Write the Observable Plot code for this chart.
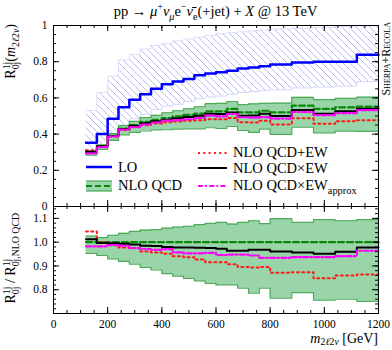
<!DOCTYPE html>
<html>
<head>
<meta charset="utf-8">
<script src="https://cdn.jsdelivr.net/npm/d3@7"></script>
<script src="https://cdn.jsdelivr.net/npm/@observablehq/plot@0.6"></script>
<style>
html,body{margin:0;padding:0;background:#fff}
#chart{position:relative;width:392px;height:350px;overflow:hidden;background:#fff;font-family:"Liberation Serif","DejaVu Serif",serif;color:#000}
#chart > svg{position:absolute;left:0;overflow:visible}
.t{position:absolute;white-space:nowrap;line-height:1}
.rot{width:240px;text-align:right;transform-origin:100% 0;transform:rotate(-90deg)}
.ss{display:inline-block;vertical-align:-0.42em;line-height:0.92;font-size:0.7em;text-align:left}
.ss span{display:block}
sub,sup{font-size:0.7em;line-height:0}
.xl sub{vertical-align:-0.2em}
.leg{position:absolute;display:flex;align-items:center;height:18px;font-size:14.5px;white-space:nowrap}
.leg svg{margin-right:6px;overflow:visible}
</style>
</head>
<body>
<div id="chart"></div>
<script>
// ---- data (bin edges in GeV; one value per bin) ----
const binEdges = [120,160,200,240,280,320,360,400,440,480,520,560,600,640,680,720,760,800,880,960,1040,1120,1200];

// upper panel: R(0j->1j) vs m_2l2v
const loValues      = [0.352,0.400,0.485,0.548,0.590,0.620,0.650,0.675,0.690,0.705,0.725,0.735,0.742,0.750,0.762,0.768,0.775,0.785,0.795,0.800,0.800,0.838];
const loBandHigh    = [0.53,0.63,0.72,0.81,0.84,0.87,0.89,0.90,0.915,0.925,0.935,0.945,0.955,0.96,0.965,0.97,0.975,0.98,0.985,0.99,0.995,0.998];
const loBandLow     = [0.30,0.335,0.40,0.45,0.485,0.51,0.535,0.555,0.565,0.58,0.595,0.605,0.61,0.62,0.63,0.635,0.64,0.645,0.655,0.66,0.665,0.69];
const nloQcd        = [0.298,0.334,0.392,0.431,0.450,0.467,0.479,0.489,0.498,0.506,0.513,0.526,0.526,0.539,0.520,0.520,0.529,0.520,0.557,0.539,0.548,0.552];
const nloBandHigh   = [0.306,0.340,0.403,0.447,0.470,0.491,0.504,0.518,0.529,0.540,0.551,0.568,0.570,0.580,0.563,0.567,0.570,0.571,0.603,0.590,0.597,0.604];
const nloBandLow    = [0.284,0.315,0.365,0.396,0.409,0.417,0.423,0.424,0.427,0.429,0.429,0.435,0.431,0.442,0.420,0.409,0.427,0.398,0.439,0.407,0.416,0.415];
const qcdPlusEw     = [0.311,0.334,0.387,0.422,0.439,0.449,0.458,0.465,0.469,0.474,0.476,0.482,0.482,0.489,0.466,0.464,0.474,0.453,0.487,0.457,0.471,0.477];
const qcdTimesEw    = [0.302,0.333,0.390,0.428,0.446,0.460,0.471,0.479,0.487,0.495,0.501,0.513,0.511,0.520,0.501,0.503,0.512,0.500,0.533,0.513,0.526,0.540];
const qcdTimesEwApx = [0.293,0.328,0.387,0.425,0.439,0.453,0.464,0.475,0.477,0.482,0.489,0.502,0.498,0.511,0.493,0.491,0.494,0.486,0.522,0.505,0.516,0.532];

// lower panel: ratio to NLO QCD
const ratioNlo      = [1,1,1,1,1,1,1,1,1,1,1,1,1,1,1,1,1,1,1,1,1,1];
const ratioBandHigh = [1.026,1.019,1.029,1.037,1.045,1.051,1.053,1.059,1.063,1.067,1.074,1.079,1.083,1.076,1.083,1.090,1.078,1.099,1.083,1.095,1.090,1.095];
const ratioBandLow  = [0.953,0.944,0.930,0.919,0.908,0.894,0.883,0.868,0.857,0.848,0.837,0.827,0.820,0.820,0.807,0.786,0.807,0.765,0.788,0.756,0.760,0.751];
const ratioPlusEw   = [1.045,1.000,0.987,0.978,0.975,0.961,0.957,0.951,0.941,0.937,0.927,0.916,0.916,0.907,0.896,0.893,0.896,0.871,0.874,0.848,0.860,0.864];
const ratioTimesEw  = [1.012,0.996,0.995,0.993,0.990,0.985,0.984,0.980,0.978,0.978,0.976,0.975,0.972,0.964,0.964,0.968,0.968,0.961,0.957,0.951,0.960,0.978];
const ratioApprox   = [0.982,0.982,0.988,0.985,0.975,0.971,0.968,0.971,0.957,0.953,0.953,0.955,0.946,0.948,0.948,0.944,0.934,0.934,0.937,0.937,0.941,0.964];

// ticks
const xMajorTicks = [0,200,400,600,800,1000,1200];
const xMinorTicks = d3.range(0, 1201, 50);
const upperYLabels = [0,0.2,0.4,0.6,0.8,1];
const upperYMinor = d3.range(0, 20).map(i => i * 0.05);
const lowerYLabels = [0.8,0.9,1.0,1.1];
const lowerYMinor = d3.range(35, 58).map(i => i * 0.02);

// ---- helpers ----
const FONT = '"Liberation Serif","DejaVu Serif",serif';
const BLUE = "#0000ff", GREEN_FILL = "#9ad5a9", GREEN_EDGE = "#4caa58", GREEN_LINE = "#0b870b",
      RED = "#ff1a1a", MAGENTA = "#ff00ff";
const PW = 325;
function steps(vals) { return binEdges.map((x, i) => ({x, y: vals[Math.min(i, vals.length - 1)]})); }
function band(lo, hi) { return binEdges.map((x, i) => { const j = Math.min(i, lo.length - 1); return {x, lo: lo[j], hi: hi[j]}; }); }
const step = {x: "x", curve: "step-after"};

function frameTicks(ph, yMaj, yMin) {
  return [
    Plot.tickX(xMajorTicks, {x: d => d, insetTop: ph - 6}),
    Plot.tickX(xMajorTicks, {x: d => d, insetBottom: ph - 6}),
    Plot.tickX(xMinorTicks, {x: d => d, insetTop: ph - 3}),
    Plot.tickX(xMinorTicks, {x: d => d, insetBottom: ph - 3}),
    Plot.tickY(yMaj, {y: d => d, insetRight: PW - 6}),
    Plot.tickY(yMaj, {y: d => d, insetLeft: PW - 6}),
    Plot.tickY(yMin, {y: d => d, insetRight: PW - 3}),
    Plot.tickY(yMin, {y: d => d, insetLeft: PW - 3})
  ];
}
function curves(nlo, bHi, bLo, pew, tew, apx) {
  return [
    Plot.areaY(band(bLo, bHi), {...step, y1: "lo", y2: "hi", fill: GREEN_FILL}),
    Plot.lineY(band(bLo, bHi), {...step, y: "lo", stroke: GREEN_EDGE, strokeWidth: 1.2}),
    Plot.lineY(band(bLo, bHi), {...step, y: "hi", stroke: GREEN_EDGE, strokeWidth: 1.2}),
    Plot.lineY(steps(nlo), {...step, y: "y", stroke: GREEN_LINE, strokeWidth: 2.2, strokeDasharray: "6,3"}),
    Plot.lineY(steps(pew), {...step, y: "y", stroke: RED, strokeWidth: 2, strokeDasharray: "2,3.3"}),
    Plot.lineY(steps(tew), {...step, y: "y", stroke: "#000", strokeWidth: 2}),
    Plot.lineY(steps(apx), {...step, y: "y", stroke: MAGENTA, strokeWidth: 2.2, strokeDasharray: "5,2.2,1.8,2.2"})
  ];
}

const chart = document.getElementById("chart");

// ---- upper panel ----
const upper = Plot.plot({
  width: 392, height: 206,
  marginTop: 25, marginBottom: 0, marginLeft: 53, marginRight: 14,
  style: {background: "transparent", fontFamily: FONT, fontSize: "11.5px", overflow: "visible"},
  x: {domain: [0, 1200], axis: null, label: null},
  y: {domain: [0, 1], label: null},
  marks: [
    Plot.areaY(band(loBandLow, loBandHigh), {...step, y1: "lo", y2: "hi", fill: "url(#loHatch)"}),
    Plot.lineY(band(loBandLow, loBandHigh), {...step, y: "lo", stroke: "#d3d6f7", strokeWidth: 1}),
    Plot.lineY(band(loBandLow, loBandHigh), {...step, y: "hi", stroke: "#dcdff9", strokeWidth: 1}),
    ...curves(nloQcd, nloBandHigh, nloBandLow, qcdPlusEw, qcdTimesEw, qcdTimesEwApx).slice(0, 4),
    Plot.lineY(steps(loValues), {...step, y: "y", stroke: BLUE, strokeWidth: 2.5}),
    ...curves(nloQcd, nloBandHigh, nloBandLow, qcdPlusEw, qcdTimesEw, qcdTimesEwApx).slice(4),
    ...frameTicks(181, upperYLabels, upperYMinor),
    Plot.axisY(upperYLabels, {tickSize: 0, tickPadding: 6, tickFormat: d => String(d), label: null}),
    Plot.frame({stroke: "#000"})
  ]
});
const defs = d3.select(upper).insert("defs", ":first-child");
const pat = defs.append("pattern").attr("id", "loHatch").attr("patternUnits", "userSpaceOnUse")
  .attr("width", 7).attr("height", 7);
pat.append("path").attr("d", "M-1,-1L8,8M-1,6L1,8M6,-1L8,1").attr("stroke", "#b6bcf1").attr("stroke-width", 1).attr("fill", "none");
upper.style.top = "0px";
chart.appendChild(upper);

// ---- lower panel ----
const lower = Plot.plot({
  width: 392, height: 144,
  marginTop: 0, marginBottom: 37, marginLeft: 53, marginRight: 14,
  style: {background: "transparent", fontFamily: FONT, fontSize: "11.5px", overflow: "visible"},
  x: {domain: [0, 1200], label: null},
  y: {domain: [0.7, 1.15], label: null},
  marks: [
    ...curves(ratioNlo, ratioBandHigh, ratioBandLow, ratioPlusEw, ratioTimesEw, ratioApprox),
    ...frameTicks(107, lowerYLabels, lowerYMinor),
    Plot.axisY(lowerYLabels, {tickSize: 0, tickPadding: 6, tickFormat: d => d.toFixed(1), label: null}),
    Plot.axisX(xMajorTicks, {tickSize: 0, tickPadding: 6, tickFormat: d => String(d), label: null}),
    Plot.frame({stroke: "#000"})
  ]
});
lower.style.top = "206px";
chart.appendChild(lower);

// ---- texts ----
function addText(html, css, cls = "t") {
  const d = document.createElement("div");
  d.className = cls;
  d.innerHTML = html;
  Object.assign(d.style, css);
  chart.appendChild(d);
  return d;
}
addText('pp → <i>μ</i><sup>+</sup><i>ν</i><sub><i>μ</i></sub>e<sup>−</sup><i>ν̄</i><sub>e</sub>(+jet) + <i>X</i> @ 13 TeV',
  {left: "53px", width: "325px", textAlign: "center", top: "4px", fontSize: "14.5px"});
addText('R<span class="ss"><span>1j</span><span>0j</span></span>(<i>m</i><sub>2<i>ℓ</i>2<i>ν</i></sub>)',
  {left: (2 - 240) + "px", top: "24px", fontSize: "14px", height: "18px"}, "t rot");
addText('R<span class="ss"><span>1j</span><span>0j</span></span> / R<span class="ss"><span>1j</span><span>0j,NLO QCD</span></span>',
  {left: (2 - 240) + "px", top: "213px", fontSize: "14px", height: "18px"}, "t rot");
addText('<i>m</i><sub>2<i>ℓ</i>2<i>ν</i></sub> [GeV]', {right: "14px", top: "332px", fontSize: "14px"}, "t xl");
addText('Sherpa+Recola', {left: (380 - 240) + "px", top: "22px", fontSize: "12px", fontVariant: "small-caps", height: "14px"}, "t rot");

// ---- legend ----
function legend(left, cy, w, sample, html) {
  const d = document.createElement("div");
  d.className = "leg";
  d.style.left = left + "px";
  d.style.top = (cy - 9) + "px";
  d.innerHTML = `<svg width="${w}" height="18">${sample}</svg><span>${html}</span>`;
  chart.appendChild(d);
}
legend(86, 167, 26, `<line x1="0" x2="26" y1="9" y2="9" stroke="${BLUE}" stroke-width="2.5"/>`, "LO");
legend(86, 185.5, 26,
  `<rect x="0" y="4" width="26" height="10" fill="${GREEN_FILL}"/>
   <line x1="0" x2="26" y1="4" y2="4" stroke="${GREEN_EDGE}" stroke-width="1.2"/>
   <line x1="0" x2="26" y1="14" y2="14" stroke="${GREEN_EDGE}" stroke-width="1.2"/>
   <line x1="0" x2="26" y1="9" y2="9" stroke="${GREEN_LINE}" stroke-width="2.2" stroke-dasharray="6,3"/>`, "NLO QCD");
legend(198, 152.5, 29, `<line x1="0" x2="29" y1="9" y2="9" stroke="${RED}" stroke-width="2" stroke-dasharray="2,3.3"/>`, "NLO QCD+EW");
legend(198, 168, 29, `<line x1="0" x2="29" y1="9" y2="9" stroke="#000" stroke-width="2"/>`, "NLO QCD×EW");
legend(198, 185.5, 29, `<line x1="0" x2="29" y1="9" y2="9" stroke="${MAGENTA}" stroke-width="2.2" stroke-dasharray="5,2.2,1.8,2.2"/>`,
  'NLO QCD×EW<sub style="font-size:0.72em">approx</sub>');
</script>
</body>
</html>
